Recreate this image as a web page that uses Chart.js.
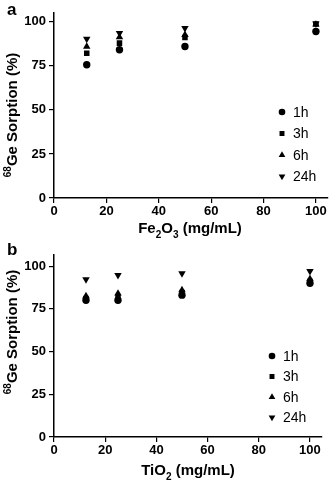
<!DOCTYPE html>
<html>
<head>
<meta charset="utf-8">
<script src="https://cdn.jsdelivr.net/npm/chart.js@4.4.0/dist/chart.umd.min.js"></script>
<style>
  body { margin: 0; background: #fff; }
  canvas { display: block; }
</style>
</head>
<body>
<canvas id="chartA" width="332" height="240"></canvas>
<canvas id="chartB" width="332" height="242"></canvas>
<script>
// concentraciones (mg/mL) y sorcion de 68Ge (%)
const doses = [12.5, 25, 50, 100];
const seriesNames = ['1h', '3h', '6h', '24h'];

const fe1h = [75.6, 84.1, 86.0, 94.5];
const fe3h = [82.2, 87.9, 91.1, 98.7];
const fe6h = [86.0, 91.3, 92.6, 98.5];
const fe24h = [90.3, 93.6, 96.4, 99.0];

const ti1h = [80.0, 80.0, 83.0, 90.0];
const ti3h = [81.0, 81.5, 84.5, 91.0];
const ti6h = [82.5, 84.0, 86.0, 92.5];
const ti24h = [92.2, 94.7, 95.7, 97.0];

const yTicks = [0, 25, 50, 75, 100];
const xTicks = [0, 20, 40, 60, 80, 100];

const FONT = '"Liberation Sans", Arial, sans-serif';

const styles = [
    { pointStyle: 'circle', rotation: 0, radius: 3.7 },
    { pointStyle: 'rect', rotation: 0, radius: 3.9 },
    { pointStyle: 'triangle', rotation: 0, radius: 4.3 },
    { pointStyle: 'triangle', rotation: 180, radius: 4.3 }
];

function makeDatasets(list) {
    return list.map((vals, i) => ({
        label: seriesNames[i],
        data: doses.map((d, j) => ({ x: d, y: vals[j] })),
        pointStyle: styles[i].pointStyle,
        rotation: styles[i].rotation,
        pointRadius: styles[i].radius,
        pointHoverRadius: styles[i].radius,
        backgroundColor: '#000',
        borderColor: '#000',
        borderWidth: 0,
        showLine: false
    }));
}

// texto con subindices / superindices, centrado en (0,0)
function richText(ctx, parts, size) {
    const big = 'bold ' + size + 'px ' + FONT;
    const small = 'bold ' + Math.round(size * 0.68) + 'px ' + FONT;
    let total = 0;
    parts.forEach(p => {
        ctx.font = p.s ? small : big;
        total += ctx.measureText(p.t).width;
    });
    let x = -total / 2;
    ctx.textAlign = 'left';
    ctx.textBaseline = 'alphabetic';
    parts.forEach(p => {
        ctx.font = p.s ? small : big;
        let dy = 0;
        if (p.s === 'sub') dy = size * 0.28;
        if (p.s === 'sup') dy = -size * 0.4;
        ctx.fillText(p.t, x, size * 0.36 + dy);
        x += ctx.measureText(p.t).width;
    });
}

// leyenda dentro del area del grafico, titulos de ejes y letra del panel
const innerLegend = {
    id: 'innerLegend',
    afterDraw(chart, args, opts) {
        const ctx = chart.ctx;
        ctx.save();
        ctx.fillStyle = '#000';
        ctx.strokeStyle = '#000';
        chart.data.datasets.forEach((ds, i) => {
            const y = opts.y + i * opts.gap;
            Chart.helpers.drawPoint(ctx, {
                pointStyle: ds.pointStyle,
                rotation: ds.rotation,
                radius: ds.pointRadius * 0.9,
                borderWidth: 0
            }, opts.x, y);
            ctx.font = '14px ' + FONT;
            ctx.textBaseline = 'middle';
            ctx.textAlign = 'left';
            ctx.fillText(ds.label, opts.x + 11, y + 1);
        });

        ctx.font = 'bold 17px ' + FONT;
        ctx.textBaseline = 'top';
        ctx.fillText(opts.letter, 7, 2);

        // titulo eje x
        ctx.save();
        ctx.translate(opts.xtX, opts.xtY);
        richText(ctx, opts.xTitle, 15);
        ctx.restore();

        // titulo eje y
        ctx.save();
        ctx.translate(12, opts.ytY);
        ctx.rotate(-Math.PI / 2);
        richText(ctx, [{ t: '68', s: 'sup' }, { t: 'Ge Sorption (%)' }], 15);
        ctx.restore();

        ctx.restore();
    }
};

function makeOptions(xMax, p) {
    return {
        responsive: false,
        animation: false,
        layout: { padding: { top: p.top, right: p.right, left: 0, bottom: 0 } },
        scales: {
            x: {
                type: 'linear',
                min: 0,
                max: xMax,
                afterBuildTicks: (s) => { s.ticks = xTicks.map(v => ({ value: v })); },
                afterFit: (s) => { s.height = p.xHeight; },
                grid: { drawOnChartArea: false, drawTicks: true, tickLength: 5, color: '#000', lineWidth: 1.2 },
                border: { color: '#000', width: 1.5 },
                ticks: {
                    color: '#000',
                    padding: 1,
                    font: { family: FONT, size: 13, weight: 'bold' }
                }
            },
            y: {
                min: 0,
                max: p.yMax,
                afterBuildTicks: (s) => { s.ticks = yTicks.map(v => ({ value: v })); },
                afterFit: (s) => { s.width = 54; },
                grid: { drawOnChartArea: false, drawTicks: true, tickLength: 5, color: '#000', lineWidth: 1.2 },
                border: { color: '#000', width: 1.5 },
                ticks: {
                    color: '#000',
                    padding: 3,
                    font: { family: FONT, size: 13, weight: 'bold' }
                }
            }
        },
        plugins: {
            legend: { display: false },
            tooltip: { enabled: false },
            innerLegend: {
                x: p.lx, y: p.ly, gap: p.gap, letter: p.letter,
                xTitle: p.xTitle, xtX: p.xtX, xtY: p.xtY, ytY: p.ytY
            }
        }
    };
}

document.addEventListener('DOMContentLoaded', () => {
    new Chart(document.getElementById('chartA').getContext('2d'), {
        type: 'scatter',
        data: { datasets: makeDatasets([fe1h, fe3h, fe6h, fe24h]) },
        options: makeOptions(104.5, {
            top: 13, right: 2, xHeight: 42, yMax: 105,
            lx: 282, ly: 112, gap: 21.5, letter: 'a',
            xTitle: [{ t: 'Fe' }, { t: '2', s: 'sub' }, { t: 'O' }, { t: '3', s: 'sub' }, { t: ' (mg/mL)' }],
            xtX: 190, xtY: 228, ytY: 115
        }),
        plugins: [innerLegend]
    });

    new Chart(document.getElementById('chartB').getContext('2d'), {
        type: 'scatter',
        data: { datasets: makeDatasets([ti1h, ti3h, ti6h, ti24h]) },
        options: makeOptions(104.7, {
            top: 15, right: 10, xHeight: 45, yMax: 106.5,
            lx: 272, ly: 116, gap: 20.5, letter: 'b',
            xTitle: [{ t: 'TiO' }, { t: '2', s: 'sub' }, { t: ' (mg/mL)' }],
            xtX: 188, xtY: 230, ytY: 92
        }),
        plugins: [innerLegend]
    });
});
</script>
</body>
</html>
